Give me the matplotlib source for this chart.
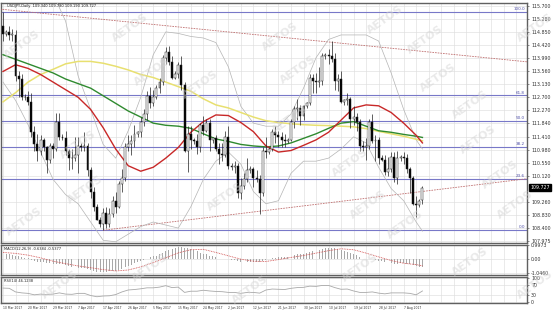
import numpy as np
import matplotlib.pyplot as plt

# USDJPY daily bars, 10 Mar 2017 -> 14 Aug 2017 (feed has small sunday bars)
opens = [115.05,114.78,114.85,114.75,114.75,113.40,113.30,112.70,112.72,112.55,
         111.55,111.15,110.95,111.30,111.05,110.65,111.10,111.00,111.90,111.40,
         111.35,110.95,110.70,110.70,110.80,111.10,111.05,111.10,110.30,109.60,
         109.10,108.65,108.55,108.90,108.55,108.85,109.30,109.10,109.85,110.05,
         111.05,111.15,111.25,111.50,111.55,111.90,112.15,112.75,112.50,112.70,
         113.00,113.20,114.00,114.20,113.85,113.35,113.45,113.75,113.10,110.95,
         111.50,111.30,111.25,111.05,111.80,111.60,111.85,111.30,111.35,111.00,
         110.85,110.80,111.40,110.45,110.40,110.45,109.55,109.80,110.00,110.30,
         110.35,110.05,110.00,109.55,110.95,110.90,111.00,111.55,111.45,111.40,
         111.30,111.25,111.30,111.90,112.30,112.35,112.10,112.40,112.50,113.35,
         113.25,113.20,113.25,114.05,114.10,114.05,113.95,113.25,113.30,112.55,
         112.60,112.65,112.00,112.05,111.90,111.10,111.05,111.10,111.90,111.25,
         111.30,110.70,110.65,110.25,110.35,110.75,110.05,110.70,110.75,110.70,
         110.35,110.05,109.20,109.15,109.34]
highs = [115.50,114.90,115.05,114.95,114.90,113.55,113.45,112.80,112.90,112.85,
         111.75,111.50,111.45,111.35,111.10,111.20,111.20,112.20,112.20,111.50,
         111.60,111.00,111.00,111.40,111.40,111.20,111.55,111.20,110.40,109.75,
         109.20,108.75,109.05,109.10,109.05,109.45,109.60,109.95,110.35,111.20,
         111.45,111.45,111.80,111.60,112.05,112.30,112.90,113.05,112.95,113.10,
         113.35,114.10,114.35,114.40,114.05,113.55,113.85,114.05,113.20,111.75,
         111.75,111.35,111.50,111.85,112.10,112.00,112.00,111.40,111.45,111.20,
         111.20,111.60,111.75,110.55,110.60,110.55,110.05,110.20,110.70,110.45,
         110.40,110.30,110.15,111.05,111.40,111.05,111.65,111.75,111.60,111.55,
         111.50,111.35,112.00,112.40,112.65,112.45,112.45,112.55,113.45,113.45,
         113.50,113.70,114.15,114.15,114.30,114.55,114.15,113.45,113.55,112.65,
         112.85,112.70,112.40,112.20,112.00,111.25,111.35,112.00,112.15,111.45,
         111.40,110.80,110.80,110.75,110.90,110.90,110.95,110.80,110.90,110.85,
         110.40,110.10,109.45,109.35,109.78]
lows = [114.55,114.70,114.60,114.55,113.25,112.70,112.60,112.60,112.45,111.40,
        110.95,110.60,110.80,110.95,110.20,110.55,110.70,110.95,111.30,111.30,
        110.80,110.30,110.35,110.60,110.20,110.95,110.95,110.10,109.40,108.95,
        108.65,108.45,108.33,108.40,108.45,108.75,108.90,109.05,109.60,109.95,
        110.95,110.80,111.05,111.40,111.40,111.75,111.95,112.35,112.40,112.65,
        112.85,113.10,113.80,113.75,113.30,113.30,113.35,112.95,110.90,110.25,
        111.00,111.15,110.85,110.90,111.45,111.55,110.95,111.20,110.95,110.50,
        110.60,110.75,110.35,110.30,110.20,109.40,109.35,109.70,109.90,110.20,
        109.75,109.90,108.85,109.45,110.70,110.85,110.95,111.20,111.05,111.05,
        111.05,111.20,111.25,111.70,111.95,111.80,111.95,112.35,112.45,112.85,
        112.85,113.05,113.10,113.95,113.80,113.85,112.95,112.90,112.50,112.45,
        112.45,111.70,111.80,111.60,110.95,110.95,110.65,111.00,111.20,110.60,
        110.50,110.60,110.15,110.10,110.25,109.90,109.85,110.60,110.50,110.20,
        109.55,109.15,108.75,109.10,109.19]
closes = [114.78,114.85,114.75,114.75,113.40,113.30,112.70,112.72,112.55,111.55,
          111.15,110.95,111.30,111.05,110.65,111.10,111.00,111.90,111.40,111.35,
          110.95,110.70,110.70,110.80,111.10,111.05,111.10,110.30,109.60,109.10,
          108.65,108.55,108.90,108.55,108.85,109.30,109.10,109.85,110.05,111.05,
          111.15,111.25,111.50,111.55,111.90,112.15,112.75,112.50,112.70,113.00,
          113.20,114.00,114.20,113.85,113.35,113.45,113.75,113.10,110.95,111.50,
          111.30,111.25,111.05,111.80,111.60,111.85,111.30,111.35,111.00,110.85,
          110.80,111.40,110.45,110.40,110.45,109.55,109.80,110.00,110.30,110.35,
          110.05,110.00,109.55,110.95,110.90,111.00,111.55,111.45,111.40,111.30,
          111.25,111.30,111.90,112.30,112.35,112.10,112.40,112.50,113.35,113.25,
          113.20,113.25,114.05,114.10,114.05,113.95,113.25,113.30,112.55,112.60,
          112.65,112.00,112.05,111.90,111.10,111.05,111.10,111.90,111.25,111.30,
          110.70,110.65,110.25,110.35,110.75,110.05,110.70,110.75,110.70,110.35,
          110.05,109.20,109.15,109.30,109.727]

date_labels = ['10 Mar 2017','20 Mar 2017','29 Mar 2017','7 Apr 2017','17 Apr 2017',
               '26 Apr 2017','5 May 2017','15 May 2017','24 May 2017','2 Jun 2017',
               '12 Jun 2017','21 Jun 2017','30 Jun 2017','10 Jul 2017','19 Jul 2017',
               '28 Jul 2017','7 Aug 2017']

# indicator lines every 4 bars
line_bars = list(range(0, 133, 4)) + [134]
ma_red = [113.55,113.77,113.65,113.45,113.2,112.95,112.7,112.3,111.7,111.0,110.45,110.27,
          110.4,110.7,111.05,111.55,111.9,112.12,112.1,111.87,111.57,111.1,110.9,110.95,
          111.12,111.3,111.55,111.95,112.35,112.45,112.42,112.2,111.85,111.45,111.2]
ma_green = [114.1,113.95,113.8,113.65,113.5,113.3,113.15,113.0,112.75,112.5,112.25,112.05,
            111.85,111.78,111.75,111.68,111.5,111.33,111.25,111.15,111.1,111.07,111.1,111.2,
            111.35,111.5,111.68,111.85,111.9,111.75,111.6,111.55,111.48,111.42,111.38]
ma_yellow = [112.55,112.85,113.2,113.45,113.62,113.8,113.88,113.88,113.82,113.72,113.6,113.45,
             113.35,113.2,113.05,112.9,112.65,112.45,112.35,112.2,112.05,111.93,111.87,111.83,
             111.8,111.78,111.77,111.75,111.73,111.67,111.58,111.5,111.42,111.32,111.27]
bb_upper = [116.3,116.4,116.4,116.4,116.1,115.2,113.4,112.3,111.15,110.7,111.6,112.7,
            114.1,114.85,114.8,114.7,114.65,114.5,113.7,112.4,111.85,111.75,111.75,112.15,
            113.0,114.0,114.6,114.75,114.75,114.75,114.55,113.5,112.3,111.3,111.0]
bb_lower = [113.2,112.6,111.8,110.9,110.0,109.5,109.2,108.6,108.0,107.95,108.2,108.45,
            108.6,108.5,108.4,109.1,110.0,110.6,110.9,110.5,109.6,109.2,109.3,110.2,
            110.6,110.6,110.7,111.0,111.4,111.2,110.4,109.7,109.3,108.6,108.3]

macd_main = [0.32,0.31,0.30,0.29,0.22,0.17,0.10,0.06,0.02,-0.08,
             -0.16,-0.24,-0.27,-0.29,-0.34,-0.36,-0.40,-0.38,-0.41,-0.43,
             -0.50,-0.58,-0.64,-0.68,-0.70,-0.71,-0.72,-0.78,-0.86,-0.93,
             -0.98,-1.00,-0.99,-0.99,-0.96,-0.92,-0.90,-0.84,-0.77,-0.65,
             -0.55,-0.46,-0.36,-0.29,-0.20,-0.10,0.02,0.09,0.16,0.22,
             0.30,0.43,0.56,0.66,0.74,0.80,0.86,0.84,0.80,0.76,
             0.70,0.62,0.52,0.42,0.35,0.30,0.22,0.17,0.10,0.04,
             0.00,0.00,-0.07,-0.11,-0.14,-0.22,-0.26,-0.27,-0.25,-0.23,
             -0.23,-0.23,-0.27,-0.17,-0.10,-0.05,0.02,0.06,0.09,0.11,
             0.12,0.13,0.18,0.25,0.30,0.33,0.37,0.40,0.50,0.56,
             0.60,0.63,0.71,0.76,0.80,0.81,0.76,0.72,0.63,0.56,
             0.50,0.40,0.32,0.24,0.12,0.04,-0.04,-0.02,-0.06,-0.09,
             -0.16,-0.21,-0.29,-0.34,-0.35,-0.40,-0.38,-0.36,-0.36,-0.37,
             -0.41,-0.51,-0.58,-0.60,-0.64]
macd_signal = [0.45,0.38,0.25,0.05,-0.20,-0.38,-0.55,-0.68,-0.82,-0.92,-0.85,-0.62,
               -0.30,0.05,0.42,0.65,0.68,0.45,0.20,-0.05,-0.20,-0.22,-0.08,0.08,
               0.22,0.40,0.58,0.72,0.65,0.40,0.12,-0.15,-0.35,-0.45,-0.54]

rsi_bars = list(range(0, 135, 2))
rsi_vals = [58,57,42,38,36,30,33,31,33,38,33,32,36,36,27,22,25,26,31,42,50,52,55,59,59,62,
            68,60,62,40,45,45,49,46,44,43,40,40,36,40,40,37,50,54,53,52,57,60,61,66,65,69,
            69,60,53,54,46,40,40,42,37,34,38,38,38,36,30,46]

fib_low, fib_high = 108.33, 115.50
fib_ratios = [0.0, 23.6, 38.2, 50.0, 61.8, 100.0]
trend_up_x, trend_up_y = [-1, 168], [115.60, 113.86]
trend_lo_x, trend_lo_y = [32, 168], [108.33, 110.03]

price_ticks = [107.975,108.400,108.830,109.260,110.120,110.550,110.980,111.410,111.840,
               112.270,112.700,113.130,113.560,113.990,114.420,114.850,115.280,115.700]

n = len(closes)
x = np.arange(n)

W, H = 560, 314
fig = plt.figure(figsize=(W/100, H/100), dpi=100)
left, width = 1/W, 526/W
ax = fig.add_axes([left, 1-243/H, width, 240/H])
axm = fig.add_axes([left, 1-275/H, width, 30/H], sharex=ax)
axr = fig.add_axes([left, 1-303/H, width, 26/H], sharex=ax)

for a in (ax, axm, axr):
    a.set_facecolor('white')
    for s in a.spines.values():
        s.set_color('#606060')
        s.set_linewidth(1.0)
    a.yaxis.tick_right()
    a.tick_params(axis='y', labelsize=3.4, length=1.5, width=0.4, pad=1.5, colors='#333333')
    a.tick_params(axis='x', length=0, labelbottom=False)
    a.set_xticks(np.arange(0, 168, 4), minor=False)
    a.grid(True, color='#dedede', lw=0.45)
    a.set_axisbelow(True)

ax.set_xlim(-0.64, 167.4)
ax.set_ylim(107.91, 115.80)
ax.set_yticks(price_ticks)
ax.set_yticklabels(['%.3f' % t for t in price_ticks])

# fibonacci retracement
for r in fib_ratios:
    lvl = fib_low + r / 100 * (fib_high - fib_low)
    ax.axhline(lvl, color='#7878c8', lw=0.8, zorder=2)
    ax.text(166.8, lvl + 0.03, '%.1f' % r, fontsize=3, color='#5050a8', ha='right', va='bottom')

# trend lines
ax.plot(trend_up_x, trend_up_y, color='#c07070', lw=0.6, ls=(0, (2, 1.2)), zorder=3)
ax.plot(trend_lo_x, trend_lo_y, color='#c07070', lw=0.6, ls=(0, (2, 1.2)), zorder=3)

# bollinger + moving averages
ax.plot(line_bars, bb_upper, color='#b4b4b4', lw=0.5, zorder=3)
ax.plot(line_bars, bb_lower, color='#b4b4b4', lw=0.5, zorder=3)
ax.plot(line_bars, ma_yellow, color='#e8e070', lw=1.1, zorder=4)
ax.plot(line_bars, ma_green, color='#2f8a2f', lw=1.0, zorder=4)
ax.plot(line_bars, ma_red, color='#c82828', lw=1.0, zorder=4)

# candles
o, h, l, c = map(np.array, (opens, highs, lows, closes))
ax.vlines(x, l, h, color='#202020', lw=0.5, zorder=5)
body_lo = np.minimum(o, c)
body_h = np.maximum(np.abs(c - o), 0.02)
cols = np.where(c >= o, 'white', 'black')
ax.bar(x, body_h, bottom=body_lo, width=0.62, color=cols, edgecolor='#202020', lw=0.35, zorder=6)

ax.text(0.012, 0.997, 'USDJPY,Daily  109.340 109.780 109.190 109.727', transform=ax.transAxes,
        fontsize=2.6, va='top', ha='left', color='#222222')
ax.annotate('109.727', xy=(1.0, closes[-1]), xycoords=('axes fraction', 'data'),
            xytext=(2.5, 0), textcoords='offset points', fontsize=3.4, color='white',
            va='center', ha='left', annotation_clip=False,
            bbox=dict(boxstyle='square,pad=0.25', fc='black', ec='black'))

# MACD
axm.bar(x, macd_main, width=0.3, color='#a8a8a8', zorder=3)
axm.plot(line_bars, macd_signal, color='#d04848', lw=0.6, ls=(0, (1, 1)), zorder=4)
axm.set_ylim(-1.22, 1.0)
axm.set_yticks([0.9973, 0.0, -1.046])
axm.set_yticklabels(['0.9973', '0.00', '-1.0460'])
axm.text(0.005, 0.93, 'MACD(12,26,9) -0.6384 -0.5377', transform=axm.transAxes,
         fontsize=2.6, va='top', ha='left', color='#222222')

# RSI
axr.plot(rsi_bars, rsi_vals, color='#a8a8a8', lw=0.6, zorder=3)
axr.set_ylim(-4, 104)
axr.set_yticks([100, 70, 30, 0])
axr.set_yticklabels(['100', '70', '30', '0'])
axr.text(0.005, 0.93, 'RSI(14) 46.1238', transform=axr.transAxes,
         fontsize=2.6, va='top', ha='left', color='#222222')

for i, lab in enumerate(date_labels):
    fig.text(left + (i * 8 + 0.64) / 168.04 * width, 1 - 308/H, lab, fontsize=2.2,
             ha='left', va='center', color='#333333')

# watermark
marks = [(22, 45), (130, 28), (152, 72), (78, 145), (85, 190), (200, 85), (280, 37),
         (298, 70), (385, 20), (425, 40), (438, 78), (535, 28), (478, 140), (500, 175),
         (515, 205), (350, 163), (368, 205), (225, 197), (24, 222), (405, 225), (470, 105),
         (150, 268), (360, 268), (60, 285), (250, 290), (470, 262), (535, 285), (290, 120)]
for mx, my in marks:
    fig.text(mx / W, 1 - my / H, 'AETOS', fontsize=8, fontweight='bold', color='#d4d4d4',
             alpha=0.5, rotation=35, ha='center', va='center')

fig.savefig('out.png', dpi=100, facecolor='white')
